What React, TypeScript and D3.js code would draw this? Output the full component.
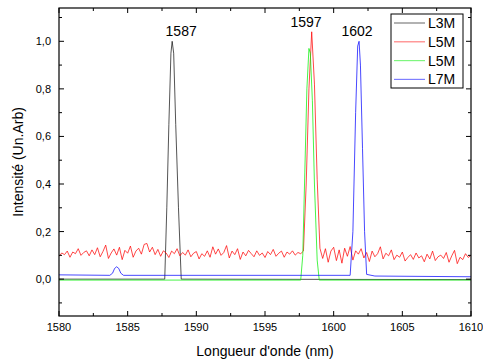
import React from "react";
import * as d3 from "d3";

const W = 483;
const H = 360;

// L3M (black)
const blackX = [1580, 1587.7, 1587.85, 1588.0, 1588.15, 1588.24, 1588.35, 1588.5, 1588.7, 1588.9, 1610];
const blackY = [0, 0, 0.3, 0.65, 0.95, 1.0, 0.95, 0.65, 0.3, 0, -0.002];

// L5M (red) sampled every 0.2 nm from 1580 to 1610
const redStart = 1580;
const redStep = 0.2;
const redY = [
  0.096, 0.110, 0.103, 0.118, 0.092, 0.114, 0.107, 0.128, 0.100, 0.112,
  0.119, 0.098, 0.123, 0.103, 0.132, 0.094, 0.116, 0.143, 0.087, 0.110,
  0.127, 0.101, 0.134, 0.082, 0.121, 0.109, 0.139, 0.092, 0.118, 0.130,
  0.105, 0.146, 0.150, 0.114, 0.134, 0.103, 0.125, 0.096, 0.119, 0.110,
  0.091, 0.118, 0.107, 0.128, 0.098, 0.112, 0.101, 0.123, 0.094, 0.109,
  0.116, 0.085, 0.107, 0.096, 0.119, 0.092, 0.136, 0.105, 0.127, 0.100,
  0.112, 0.141, 0.089, 0.118, 0.103, 0.128, 0.083, 0.114, 0.098, 0.121,
  0.107, 0.094, 0.119, 0.100, 0.110, 0.091, 0.116, 0.103, 0.125, 0.096,
  0.109, 0.118, 0.092, 0.114, 0.105, 0.119, 0.101, 0.112, 0.107, 0.118,
  0.40, 0.80, 1.04, 0.82, 0.42, 0.13,
  0.087, 0.128, 0.071, 0.118,
  0.134, 0.078, 0.123, 0.067, 0.130, 0.096, 0.137, 0.080, 0.119, 0.105,
  0.128, 0.089, 0.112, 0.074, 0.118, 0.094, 0.107, 0.136, 0.085, 0.109,
  0.098, 0.123, 0.082, 0.101, 0.092, 0.114, 0.076, 0.091, 0.103, 0.083,
  0.110, 0.089, 0.098, 0.073, 0.105, 0.085, 0.118, 0.078, 0.094, 0.101,
  0.087, 0.112, 0.071, 0.098, 0.121, 0.065, 0.092, 0.082, 0.107, 0.091, 0.100,
];

// L5M (green)
const greenX = [1580, 1597.6, 1597.75, 1597.9, 1598.05, 1598.2, 1598.3, 1598.45, 1598.6, 1598.8, 1598.95, 1610];
const greenY = [-0.004, -0.004, 0.1, 0.45, 0.8, 0.97, 0.95, 0.75, 0.4, 0.08, -0.004, -0.004];

// L7M (blue)
const blueX = [1580, 1583.7, 1583.9, 1584.05, 1584.2, 1584.35, 1584.5, 1584.7, 1601.2, 1601.4, 1601.6, 1601.75, 1601.85, 1601.95, 1602.1, 1602.25, 1602.4, 1603, 1610];
const blueY = [0.018, 0.016, 0.025, 0.045, 0.052, 0.045, 0.025, 0.016, 0.016, 0.2, 0.7, 0.98, 1.0, 0.9, 0.55, 0.2, 0.02, 0.013, 0.01];

const seriesNames = ["L3M", "L5M", "L5M", "L7M"];
const seriesColors = ["#000000", "#ff0000", "#00ee00", "#0000ff"];

const xMajor = [1580, 1585, 1590, 1595, 1600, 1605, 1610];
const yMajor = [0, 0.2, 0.4, 0.6, 0.8, 1.0];
const yLabels = ["0,0", "0,2", "0,4", "0,6", "0,8", "1,0"];

const peakLabels = ["1587", "1597", "1602"];
const peakX = [1588.24, 1598.35, 1601.85];
const peakYv = [1.0, 1.04, 1.0];

export default function App() {
  const left = 59, right = 471, top = 8, bottom = 316;
  const x = d3.scaleLinear().domain([1580, 1610]).range([left, right]);
  const y = d3.scaleLinear().domain([-0.155, 1.14]).range([bottom, top]);

  const line = d3.line<[number, number]>().x((d) => x(d[0])).y((d) => y(d[1]));
  const zip = (xs: number[], ys: number[]) => xs.map((v, i) => [v, ys[i]] as [number, number]);
  const redPts = redY.map((v, i) => [redStart + i * redStep, v] as [number, number]);
  const data = [zip(blackX, blackY), redPts, zip(greenX, greenY), zip(blueX, blueY)];

  const xMinor = d3.range(1582.5, 1610, 5);
  const yMinor = [-0.1, 0.1, 0.3, 0.5, 0.7, 0.9, 1.1];
  const font = "Liberation Sans, Arial, sans-serif";

  const legX = 391, legY = 14, legW = 72, legH = 74;

  return (
    <svg width={W} height={H} style={{ position: "absolute", left: 0, top: 0, background: "#fff" }} fontFamily={font}>
      <defs>
        <clipPath id="plot">
          <rect x={left} y={top} width={right - left} height={bottom - top} />
        </clipPath>
      </defs>
      <g clipPath="url(#plot)">
        {data.map((d, i) => (
          <path key={i} d={line(d) || ""} fill="none" stroke={seriesColors[i]} strokeWidth={0.9} strokeOpacity={i === 0 ? 0.75 : 0.8} />
        ))}
      </g>
      {/* frame */}
      <rect x={left} y={top} width={right - left} height={bottom - top} fill="none" stroke="#000" strokeWidth={1.2} />
      {/* x ticks */}
      {xMajor.map((v) => (
        <g key={"xm" + v}>
          <line x1={x(v)} x2={x(v)} y1={bottom} y2={bottom - 5} stroke="#000" />
          <line x1={x(v)} x2={x(v)} y1={top} y2={top + 5} stroke="#000" />
          <text x={x(v)} y={331} fontSize={11} textAnchor="middle">{v}</text>
        </g>
      ))}
      {xMinor.map((v) => (
        <g key={"xn" + v}>
          <line x1={x(v)} x2={x(v)} y1={bottom} y2={bottom - 3} stroke="#000" />
          <line x1={x(v)} x2={x(v)} y1={top} y2={top + 3} stroke="#000" />
        </g>
      ))}
      {yMajor.map((v, i) => (
        <g key={"ym" + v}>
          <line x1={left} x2={left + 5} y1={y(v)} y2={y(v)} stroke="#000" />
          <line x1={right} x2={right - 5} y1={y(v)} y2={y(v)} stroke="#000" />
          <text x={51} y={y(v) + 4} fontSize={11} textAnchor="end">{yLabels[i]}</text>
        </g>
      ))}
      {yMinor.map((v) => (
        <g key={"yn" + v}>
          <line x1={left} x2={left + 3} y1={y(v)} y2={y(v)} stroke="#000" />
          <line x1={right} x2={right - 3} y1={y(v)} y2={y(v)} stroke="#000" />
        </g>
      ))}
      {/* axis titles */}
      <text x={(left + right) / 2} y={356} fontSize={14} textAnchor="middle">Longueur d'onde (nm)</text>
      <text transform={`translate(23, ${(top + bottom) / 2}) rotate(-90)`} fontSize={14} textAnchor="middle">Intensité (Un.Arb)</text>
      {/* peak labels */}
      {peakLabels.map((t, i) => (
        <text key={t} x={x(peakX[i]) + (i === 0 ? 9 : i === 1 ? -5 : -2)} y={y(peakYv[i]) - 5} fontSize={14} textAnchor="middle">{t}</text>
      ))}
      {/* legend */}
      <rect x={legX} y={legY} width={legW} height={legH} fill="#fff" stroke="#000" strokeWidth={1} />
      {seriesNames.map((n, i) => (
        <g key={i}>
          <line x1={legX + 3} x2={legX + 34} y1={legY + 9 + i * 18.8} y2={legY + 9 + i * 18.8} stroke={seriesColors[i]} strokeOpacity={0.5} strokeWidth={1.2} />
          <text x={legX + 37} y={legY + 14 + i * 18.8} fontSize={14}>{n}</text>
        </g>
      ))}
    </svg>
  );
}
